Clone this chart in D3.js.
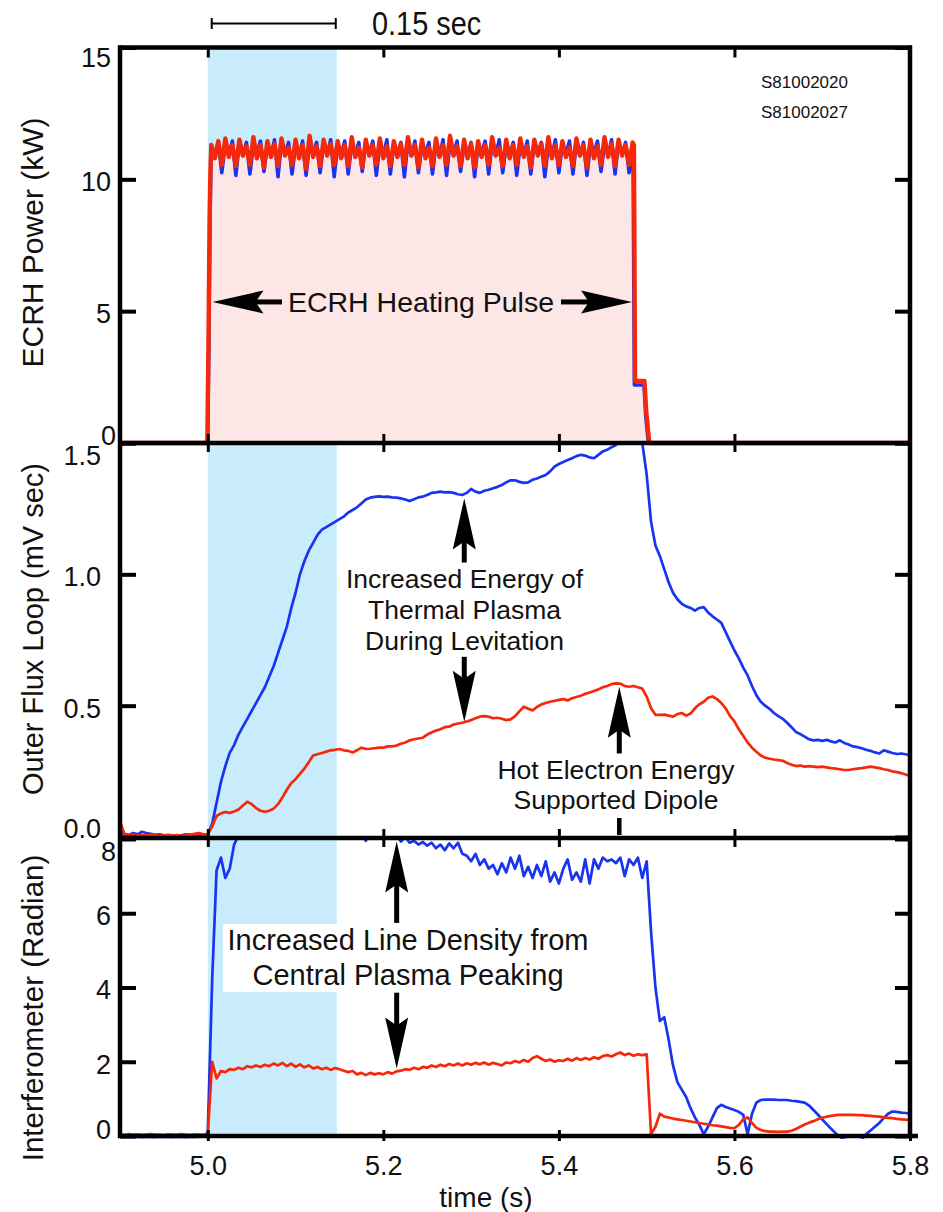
<!DOCTYPE html>
<html>
<head>
<meta charset="utf-8">
<script src="https://cdn.jsdelivr.net/npm/d3@7"></script>
<style>
  html, body { margin: 0; padding: 0; background: #fff; }
  svg { display: block; }
  text { font-family: "Liberation Sans", Arial, Helvetica, sans-serif; fill: #111; }
</style>
</head>
<body>
<svg id="chart" width="943" height="1212"></svg>
<script>
// ---------------- data ----------------
const timeTicks = [5.0, 5.2, 5.4, 5.6, 5.8];
const powerTicks = [0, 5, 10, 15];
const fluxTicks = [0, 0.5, 1.0, 1.5];
const interfTicks = [0, 2, 4, 6, 8];
const shotLabels = ["S81002020", "S81002027"];
const heatingWindow = [5.0, 5.147];   // shaded interval (s)

// ECRH power (kW): turn-on edge, 4 ms samples of the ripple, turn-off edge
const ecrhRippleStart = 5.004, ecrhRippleStep = 0.004;
const ecrhRedLead = [[4.90, 0], [4.9995, 0], [5.001, 4.5], [5.002, 8.4], [5.003, 10.3]];
const ecrhRedRipple = [
  11.30, 10.80, 11.45, 10.55,  11.55, 10.85, 11.30, 10.50,  11.50, 10.90, 11.25, 10.55,
  11.60, 10.80, 11.30, 10.45,  11.45, 10.85, 11.35, 10.50,  11.55, 10.90, 11.20, 10.55,
  11.50, 10.80, 11.30, 10.40,  11.65, 10.85, 11.25, 10.50,  11.50, 10.90, 11.35, 10.55,
  11.45, 10.80, 11.30, 10.50,  11.60, 10.85, 11.20, 10.45,  11.50, 10.90, 11.30, 10.55,
  11.55, 10.80, 11.25, 10.50,  11.45, 10.85, 11.35, 10.55,  11.60, 10.90, 11.30, 10.45,
  11.50, 10.80, 11.20, 10.50,  11.55, 10.85, 11.30, 10.55,  11.65, 10.90, 11.25, 10.50,
  11.50, 10.80, 11.35, 10.45,  11.45, 10.85, 11.30, 10.55,  11.60, 10.90, 11.20, 10.50,
  11.50, 10.80, 11.30, 10.55,  11.55, 10.85, 11.25, 10.45,  11.50, 10.90, 11.35, 10.50,
  11.60, 10.80, 11.30, 10.55,  11.45, 10.85, 11.20, 10.50,  11.55, 10.90, 11.30, 10.45,
  11.50, 10.80, 11.25, 10.55,  11.60, 10.85, 11.35, 10.50,  11.50, 10.90, 11.30, 10.55,
  11.40
];
const ecrhRedTail = [[5.4855, 11.3], [5.4868, 2.35], [5.4975, 2.35], [5.4995, 1.2], [5.503, 0], [5.80, 0]];

const ecrhBlueLead = [[4.90, 0], [4.9998, 0], [5.0012, 3.5], [5.0025, 8.2], [5.0035, 10.6]];
const ecrhBlueRipple = [
  11.30, 10.90, 11.40, 10.25,  11.35, 10.95, 11.45, 10.15,  11.40, 10.90, 11.40, 10.20,
  11.30, 11.00, 11.45, 10.30,  11.35, 10.90, 11.50, 10.10,  11.40, 10.95, 11.40, 10.20,
  11.30, 10.90, 11.45, 10.15,  11.35, 11.00, 11.40, 10.25,  11.40, 10.90, 11.50, 10.10,
  11.30, 10.95, 11.45, 10.20,  11.35, 10.90, 11.40, 10.30,  11.40, 11.00, 11.45, 10.15,
  11.30, 10.90, 11.50, 10.20,  11.35, 10.95, 11.40, 10.10,  11.40, 10.90, 11.45, 10.25,
  11.30, 11.00, 11.40, 10.20,  11.35, 10.90, 11.50, 10.15,  11.40, 10.95, 11.45, 10.30,
  11.30, 10.90, 11.40, 10.10,  11.35, 11.00, 11.45, 10.20,  11.40, 10.90, 11.50, 10.25,
  11.30, 10.95, 11.40, 10.15,  11.35, 10.90, 11.45, 10.20,  11.40, 11.00, 11.40, 10.10,
  11.30, 10.90, 11.50, 10.25,  11.35, 10.95, 11.45, 10.20,  11.40, 10.90, 11.40, 10.15,
  11.30, 11.00, 11.45, 10.30,  11.35, 10.90, 11.50, 10.20,  11.40, 10.95, 11.40, 10.25,
  11.30
];
const ecrhBlueTail = [[5.4845, 10.9], [5.486, 2.2], [5.497, 2.2], [5.499, 1.0], [5.502, 0], [5.80, 0]];

// Flux loop and interferometer: 5 ms samples from 4.90 s to 5.80 s
const sampleStart = 4.90, sampleStep = 0.005;

const fluxBlue = [
  /* 4.90 */ 0.010, 0.012, 0.008, 0.015, 0.010, 0.020, 0.015, 0.012, 0.008, 0.010,
  /* 4.95 */ 0.006, 0.004, 0.005, 0.003, 0.006, 0.010, 0.008, 0.004, 0.006, 0.008,
  /* 5.00 */ 0.010, 0.050, 0.130, 0.210, 0.270, 0.320, 0.350, 0.390, 0.420, 0.450,
  /* 5.05 */ 0.480, 0.510, 0.540, 0.570, 0.610, 0.650, 0.700, 0.750, 0.800, 0.870,
  /* 5.10 */ 0.930, 1.000, 1.050, 1.090, 1.120, 1.150, 1.170, 1.180, 1.190, 1.200,
  /* 5.15 */ 1.210, 1.220, 1.235, 1.245, 1.255, 1.270, 1.285, 1.292, 1.295, 1.297,
  /* 5.20 */ 1.295, 1.296, 1.293, 1.292, 1.289, 1.285, 1.279, 1.286, 1.293, 1.296,
  /* 5.25 */ 1.302, 1.310, 1.312, 1.315, 1.312, 1.313, 1.310, 1.305, 1.302, 1.310,
  /* 5.30 */ 1.325, 1.315, 1.310, 1.318, 1.322, 1.328, 1.333, 1.340, 1.350, 1.358,
  /* 5.35 */ 1.358, 1.352, 1.348, 1.350, 1.360, 1.365, 1.372, 1.378, 1.392, 1.410,
  /* 5.40 */ 1.420, 1.428, 1.435, 1.442, 1.450, 1.455, 1.452, 1.445, 1.442, 1.455,
  /* 5.45 */ 1.468, 1.474, 1.484, 1.492, 1.510, 1.525, 1.540, 1.550, 1.545, 1.500,
  /* 5.50 */ 1.380, 1.200, 1.110, 1.070, 1.020, 0.970, 0.930, 0.905, 0.888, 0.878,
  /* 5.55 */ 0.872, 0.862, 0.872, 0.875, 0.855, 0.840, 0.828, 0.815, 0.780, 0.745,
  /* 5.60 */ 0.710, 0.680, 0.645, 0.615, 0.575, 0.540, 0.515, 0.500, 0.488, 0.472,
  /* 5.65 */ 0.460, 0.450, 0.435, 0.418, 0.400, 0.392, 0.382, 0.372, 0.368, 0.370,
  /* 5.70 */ 0.366, 0.370, 0.364, 0.360, 0.368, 0.358, 0.352, 0.345, 0.342, 0.338,
  /* 5.75 */ 0.332, 0.328, 0.322, 0.318, 0.330, 0.325, 0.320, 0.316, 0.318, 0.315,
  /* 5.80 */ 0.310
];

const fluxRed = [
  /* 4.90 */ 0.060, 0.010, 0.006, 0.008, 0.004, 0.007, 0.005, 0.009, 0.006, 0.004,
  /* 4.95 */ 0.006, 0.008, 0.005, 0.007, 0.004, 0.006, 0.009, 0.012, 0.015, 0.010,
  /* 5.00 */ 0.010, 0.040, 0.080, 0.090, 0.095, 0.092, 0.097, 0.105, 0.120, 0.134,
  /* 5.05 */ 0.125, 0.110, 0.100, 0.096, 0.100, 0.108, 0.125, 0.150, 0.180, 0.205,
  /* 5.10 */ 0.220, 0.240, 0.260, 0.285, 0.310, 0.315, 0.320, 0.325, 0.330, 0.332,
  /* 5.15 */ 0.335, 0.330, 0.328, 0.322, 0.330, 0.340, 0.335, 0.336, 0.338, 0.340,
  /* 5.20 */ 0.340, 0.345, 0.345, 0.348, 0.355, 0.360, 0.368, 0.372, 0.375, 0.378,
  /* 5.25 */ 0.390, 0.398, 0.405, 0.410, 0.418, 0.420, 0.428, 0.432, 0.435, 0.440,
  /* 5.30 */ 0.445, 0.452, 0.458, 0.460, 0.458, 0.452, 0.454, 0.450, 0.445, 0.448,
  /* 5.35 */ 0.460, 0.478, 0.496, 0.488, 0.482, 0.495, 0.505, 0.510, 0.515, 0.518,
  /* 5.40 */ 0.522, 0.525, 0.520, 0.528, 0.533, 0.538, 0.545, 0.550, 0.556, 0.562,
  /* 5.45 */ 0.570, 0.575, 0.582, 0.585, 0.584, 0.575, 0.572, 0.575, 0.570, 0.565,
  /* 5.50 */ 0.535, 0.490, 0.465, 0.465, 0.466, 0.462, 0.458, 0.468, 0.472, 0.462,
  /* 5.55 */ 0.470, 0.490, 0.505, 0.515, 0.530, 0.535, 0.525, 0.510, 0.490, 0.460,
  /* 5.60 */ 0.440, 0.410, 0.385, 0.360, 0.340, 0.325, 0.310, 0.302, 0.298, 0.295,
  /* 5.65 */ 0.293, 0.290, 0.282, 0.275, 0.270, 0.272, 0.268, 0.270, 0.268, 0.266,
  /* 5.70 */ 0.268, 0.265, 0.262, 0.260, 0.258, 0.255, 0.255, 0.258, 0.260, 0.262,
  /* 5.75 */ 0.265, 0.268, 0.265, 0.262, 0.258, 0.255, 0.250, 0.247, 0.243, 0.238,
  /* 5.80 */ 0.232
];

const interfBlue = [
  /* 4.90 */ -0.020, -0.030, -0.020, -0.025, -0.020, -0.030, -0.020, -0.025, -0.030, -0.020,
  /* 4.95 */ -0.025, -0.020, -0.030, -0.020, -0.025, -0.030, -0.020, -0.025, -0.020, -0.020,
  /* 5.00 */ 0.100, 4.200, 7.150, 7.500, 6.950, 7.200, 7.850, 8.100, 8.300, 8.400,
  /* 5.05 */ 8.500, 8.450, 8.600, 8.500, 8.550, 8.450, 8.600, 8.500, 8.550, 8.450,
  /* 5.10 */ 8.500, 8.600, 8.450, 8.550, 8.500, 8.600, 8.450, 8.500, 8.550, 8.400,
  /* 5.15 */ 8.500, 8.350, 8.450, 8.300, 8.400, 8.200, 7.950, 8.200, 8.100, 8.250,
  /* 5.20 */ 8.150, 8.300, 8.200, 8.100, 7.930, 8.050, 7.900, 7.950, 7.850, 7.920,
  /* 5.25 */ 7.820, 7.900, 7.750, 7.850, 7.700, 7.880, 7.750, 7.900, 7.600, 7.550,
  /* 5.30 */ 7.400, 7.600, 7.300, 7.450, 7.200, 7.300, 7.050, 7.350, 7.100, 7.500,
  /* 5.35 */ 7.200, 7.550, 7.000, 7.250, 6.950, 7.300, 7.000, 7.400, 6.850, 7.100,
  /* 5.40 */ 6.800, 7.200, 7.450, 6.900, 7.100, 6.850, 7.450, 6.800, 7.450, 7.200,
  /* 5.45 */ 7.500, 7.400, 7.450, 7.350, 7.500, 7.000, 7.450, 7.300, 7.500, 6.950,
  /* 5.50 */ 7.400, 5.500, 4.000, 3.100, 3.200, 2.600, 1.900, 1.450, 1.250, 1.050,
  /* 5.55 */ 0.750, 0.500, 0.300, 0.050, 0.250, 0.500, 0.750, 0.840, 0.780, 0.740,
  /* 5.60 */ 0.700, 0.650, 0.570, 0.050, 0.600, 0.900, 0.970, 0.980, 0.980, 0.980,
  /* 5.65 */ 0.970, 0.970, 0.970, 0.950, 0.940, 0.920, 0.900, 0.820, 0.700, 0.580,
  /* 5.70 */ 0.450, 0.320, 0.200, 0.080, -0.020, -0.100, -0.120, -0.120, -0.120, -0.100,
  /* 5.75 */ 0.050, 0.150, 0.250, 0.350, 0.480, 0.600, 0.660, 0.650, 0.630, 0.620,
  /* 5.80 */ 0.600
];

const interfRed = [
  /* 4.90 */ 0.040, 0.030, 0.050, 0.035, 0.045, 0.030, 0.040, 0.050, 0.035, 0.040,
  /* 4.95 */ 0.030, 0.045, 0.040, 0.035, 0.050, 0.040, 0.030, 0.045, 0.040, 0.035,
  /* 5.00 */ 0.050, 2.000, 1.550, 1.750, 1.720, 1.800, 1.780, 1.840, 1.800, 1.880,
  /* 5.05 */ 1.850, 1.900, 1.860, 1.920, 1.880, 1.950, 1.900, 1.970, 1.880, 1.950,
  /* 5.10 */ 1.860, 1.930, 1.850, 1.900, 1.820, 1.860, 1.800, 1.840, 1.780, 1.830,
  /* 5.15 */ 1.800, 1.760, 1.720, 1.750, 1.660, 1.700, 1.640, 1.700, 1.660, 1.690,
  /* 5.20 */ 1.660, 1.720, 1.680, 1.740, 1.760, 1.800, 1.780, 1.840, 1.800, 1.860,
  /* 5.25 */ 1.840, 1.900, 1.860, 1.920, 1.880, 1.940, 1.900, 1.950, 1.900, 1.960,
  /* 5.30 */ 1.920, 1.970, 1.930, 1.980, 1.920, 1.970, 1.940, 1.900, 1.980, 1.960,
  /* 5.35 */ 2.020, 1.980, 2.050, 2.000, 2.100, 2.150, 2.080, 2.020, 2.060, 2.000,
  /* 5.40 */ 2.040, 2.020, 2.080, 2.030, 2.100, 2.050, 2.100, 2.060, 2.120, 2.080,
  /* 5.45 */ 2.150, 2.180, 2.140, 2.200, 2.250, 2.180, 2.220, 2.160, 2.200, 2.180,
  /* 5.50 */ 2.200, 0.050, 0.250, 0.600, 0.520, 0.500, 0.470, 0.450, 0.430, 0.410,
  /* 5.55 */ 0.390, 0.370, 0.350, 0.330, 0.310, 0.290, 0.280, 0.260, 0.240, 0.220,
  /* 5.60 */ 0.210, 0.300, 0.450, 0.500, 0.350, 0.220, 0.160, 0.130, 0.120, 0.120,
  /* 5.65 */ 0.110, 0.120, 0.120, 0.140, 0.190, 0.250, 0.310, 0.360, 0.400, 0.450,
  /* 5.70 */ 0.490, 0.520, 0.540, 0.560, 0.570, 0.570, 0.570, 0.570, 0.560, 0.560,
  /* 5.75 */ 0.550, 0.540, 0.530, 0.520, 0.500, 0.490, 0.480, 0.460, 0.450, 0.440,
  /* 5.80 */ 0.430
];

// ---------------- styles ----------------
const BLUE = "#1834f0";
const RED = "#f5280c";
const BAND = "#c9ecfc";
const PINK = "#fde6e6";
const INK = "#000";

// ---------------- scales ----------------
const svg = d3.select("#chart");
const x = d3.scaleLinear().domain([4.9, 5.8]).range([120, 910]);
// low / high: pixel nudges for the bottom and top tick labels of each panel
const panels = {
  top: { y: d3.scaleLinear().domain([0, 15]).range([443, 47.5]), ticks: powerTicks, fmt: d3.format("d"), pad: 9, low: [5, -10], high: [0, 8] },
  mid: { y: d3.scaleLinear().domain([0, 1.5]).range([837, 443]), ticks: fluxTicks, fmt: d3.format(".1f"), pad: 19, low: [0, -11], high: [0, 10] },
  bot: { y: d3.scaleLinear().domain([0, 8]).range([1136, 839]), ticks: interfTicks, fmt: d3.format("d"), pad: 9, low: [0, -9], high: [5, 10] }
};

const sampled = vals => vals.map((v, i) => [sampleStart + i * sampleStep, v]);
const ripple = vals => vals.map((v, i) => [ecrhRippleStart + i * ecrhRippleStep, v]);
const ecrhRed = ecrhRedLead.concat(ripple(ecrhRedRipple), ecrhRedTail);
const ecrhBlue = ecrhBlueLead.concat(ripple(ecrhBlueRipple), ecrhBlueTail);

// ---------------- clip regions ----------------
const defs = svg.append("defs");
Object.entries(panels).forEach(([k, p]) => {
  const [y0, y1] = p.y.range();
  defs.append("clipPath").attr("id", "clip-" + k)
    .append("rect")
    .attr("x", x.range()[0]).attr("y", y1)
    .attr("width", x.range()[1] - x.range()[0])
    .attr("height", y0 - y1 + 3);
});

// ---------------- heating window shading ----------------
svg.append("rect")
  .attr("x", x(heatingWindow[0])).attr("y", panels.top.y(15))
  .attr("width", x(heatingWindow[1]) - x(heatingWindow[0]))
  .attr("height", panels.bot.y(0) - panels.top.y(15))
  .attr("fill", BAND);

// ---------------- ECRH power panel ----------------
const gTop = svg.append("g").attr("clip-path", "url(#clip-top)");
const yT = panels.top.y;
gTop.append("path")
  .datum(ecrhRed.filter(d => d[0] >= 5.0 && d[0] <= 5.504))
  .attr("fill", PINK)
  .attr("d", d3.area().x(d => x(d[0])).y0(yT(0)).y1(d => yT(d[1])));
const lineTop = d3.line().x(d => x(d[0])).y(d => yT(d[1]));
gTop.append("path").datum(ecrhBlue).attr("d", lineTop)
  .attr("fill", "none").attr("stroke", BLUE).attr("stroke-width", 3.6).attr("stroke-linejoin", "round");
gTop.append("path").datum(ecrhRed).attr("d", lineTop)
  .attr("fill", "none").attr("stroke", RED).attr("stroke-width", 4.4).attr("stroke-linejoin", "round");

// ---------------- flux loop panel ----------------
const gMid = svg.append("g").attr("clip-path", "url(#clip-mid)");
const yM = panels.mid.y;
const lineMid = d3.line().x(d => x(d[0])).y(d => yM(d[1]));
gMid.append("path").datum(sampled(fluxBlue)).attr("d", lineMid)
  .attr("fill", "none").attr("stroke", BLUE).attr("stroke-width", 2.7).attr("stroke-linejoin", "round");
gMid.append("path").datum(sampled(fluxRed)).attr("d", lineMid)
  .attr("fill", "none").attr("stroke", RED).attr("stroke-width", 2.7).attr("stroke-linejoin", "round");

// ---------------- interferometer panel ----------------
const gBot = svg.append("g").attr("clip-path", "url(#clip-bot)");
const yB = panels.bot.y;
const lineBot = d3.line().x(d => x(d[0])).y(d => yB(d[1]));
gBot.append("path").datum(sampled(interfBlue)).attr("d", lineBot)
  .attr("fill", "none").attr("stroke", BLUE).attr("stroke-width", 2.7).attr("stroke-linejoin", "round");
gBot.append("path").datum(sampled(interfRed)).attr("d", lineBot)
  .attr("fill", "none").attr("stroke", RED).attr("stroke-width", 2.7).attr("stroke-linejoin", "round");

// ---------------- annotations ----------------
function arrow(x1, y1, x2, y2) {
  // tail (x1,y1) to tip (x2,y2), notched head
  const L = 51, W = 11.5, N = 43;
  const len = Math.hypot(x2 - x1, y2 - y1);
  const ux = (x2 - x1) / len, uy = (y2 - y1) / len;
  svg.append("line")
    .attr("x1", x1).attr("y1", y1)
    .attr("x2", x2 - ux * (N - 2)).attr("y2", y2 - uy * (N - 2))
    .attr("stroke", INK).attr("stroke-width", 5);
  const ang = Math.atan2(uy, ux) * 180 / Math.PI;
  svg.append("path")
    .attr("d", `M0,0L${-L},${-W}L${-N},0L${-L},${W}Z`)
    .attr("transform", `translate(${x2},${y2}) rotate(${ang})`)
    .attr("fill", INK);
}

function label(lines, cx, baseline, size, gap) {
  const t = svg.append("text")
    .attr("text-anchor", "middle")
    .attr("font-size", size);
  lines.forEach((s, i) => {
    t.append("tspan").attr("x", cx).attr("y", baseline + i * gap).text(s);
  });
}

// ECRH heating pulse
label(["ECRH Heating Pulse"], 421, 311.5, 28.5, 0);
arrow(x(5.0846), yT(5.35), x(5.0054), yT(5.35));
arrow(x(5.4024), yT(5.35), x(5.4833), yT(5.35));

// thermal plasma energy
label(["Increased Energy of", "Thermal Plasma", "During Levitation"], 464.5, 588, 26.5, 31);
arrow(x(5.2922), yM(1.045), x(5.2922), yM(1.289));
arrow(x(5.2922), yM(0.686), x(5.2922), yM(0.439));

// hot electron energy
label(["Hot Electron Energy", "Supported Dipole"], 616, 778.5, 26.5, 30.5);
arrow(x(5.4688), yM(0.318), x(5.4688), yM(0.572));
svg.append("line")
  .attr("x1", x(5.4688)).attr("x2", x(5.4688))
  .attr("y1", 818).attr("y2", 835)
  .attr("stroke", INK).attr("stroke-width", 4.5);

// line density
svg.append("rect").attr("x", 223).attr("y", 924).attr("width", 370).attr("height", 68).attr("fill", "#fff");
label(["Increased Line Density from", "Central Plasma Peaking"], 408, 950, 29, 35);
arrow(x(5.2152), yB(5.74), x(5.2152), yB(7.93));
arrow(x(5.2152), yB(3.86), x(5.2152), yB(1.82));

// time scale bar
const barY = 23.5;
const bx1 = x(5.0045), bx2 = x(5.1458);
svg.append("line").attr("x1", bx1).attr("x2", bx2).attr("y1", barY).attr("y2", barY)
  .attr("stroke", INK).attr("stroke-width", 2);
[bx1, bx2].forEach(bx => svg.append("line").attr("x1", bx).attr("x2", bx)
  .attr("y1", barY - 5.5).attr("y2", barY + 5.5).attr("stroke", INK).attr("stroke-width", 2));
svg.append("text").attr("transform", "translate(372,35) scale(0.85,1)")
  .attr("font-size", 34).text("0.15 sec");

// shot numbers
shotLabels.forEach((s, i) => {
  svg.append("text").attr("x", 761).attr("y", 88.3 + i * 30).attr("font-size", 17).text(s);
});

// ---------------- axes and frame ----------------
function styleAxis(g, w) {
  g.select(".domain").remove();
  g.selectAll(".tick line").attr("stroke", INK).attr("stroke-width", w);
  g.selectAll(".tick text").attr("fill", "#111").attr("font-size", 27)
    .attr("font-family", '"Liberation Sans", Arial, Helvetica, sans-serif');
}

Object.values(panels).forEach(p => {
  const dom = p.y.domain();
  const gl = svg.append("g").attr("transform", `translate(${x.range()[0]},0)`)
    .call(d3.axisLeft(p.y).tickValues(p.ticks).tickFormat(p.fmt).tickSizeInner(-16).tickSizeOuter(0).tickPadding(p.pad));
  styleAxis(gl, 4);
  gl.selectAll(".tick text").attr("dy", "0.42em")
    .attr("transform", d => d === dom[1] ? `translate(${p.high[0]},${p.high[1]})`
                          : d === dom[0] ? `translate(${p.low[0]},${p.low[1]})` : null);
  const gr = svg.append("g").attr("transform", `translate(${x.range()[1]},0)`)
    .call(d3.axisRight(p.y).tickValues(p.ticks).tickFormat("").tickSizeInner(-15).tickSizeOuter(0));
  styleAxis(gr, 4);
});

// time ticks along the frame edges
const gTopTicks = svg.append("g").attr("transform", `translate(0,${yT(15)})`)
  .call(d3.axisTop(x).tickValues(timeTicks.slice(0, 4)).tickFormat("").tickSizeInner(-10).tickSizeOuter(0));
styleAxis(gTopTicks, 3);
[yT(0), (yM(0) + yB(8)) / 2].forEach(yy => {
  const a = svg.append("g").attr("transform", `translate(0,${yy})`)
    .call(d3.axisTop(x).tickValues(timeTicks.slice(0, 4)).tickFormat("").tickSizeInner(9).tickSizeOuter(0));
  styleAxis(a, 3);
  const b = svg.append("g").attr("transform", `translate(0,${yy})`)
    .call(d3.axisBottom(x).tickValues(timeTicks.slice(0, 4)).tickFormat("").tickSizeInner(9).tickSizeOuter(0));
  styleAxis(b, 3);
});
const gBotUp = svg.append("g").attr("transform", `translate(0,${yB(0)})`)
  .call(d3.axisTop(x).tickValues(timeTicks.slice(0, 4)).tickFormat("").tickSizeInner(6).tickSizeOuter(0));
styleAxis(gBotUp, 3);
const gX = svg.append("g").attr("transform", `translate(0,${yB(0)})`)
  .call(d3.axisBottom(x).tickValues(timeTicks).tickFormat(d3.format(".1f")).tickSizeInner(5).tickSizeOuter(0).tickPadding(15));
styleAxis(gX, 3);

// frame lines
const fx0 = x.range()[0], fx1 = x.range()[1];
const frame = [
  [fx0 - 2, yT(15), fx1 + 2, yT(15)],
  [fx0 - 2, yT(0), fx1 + 2, yT(0)],
  [fx0 - 2, (yM(0) + yB(8)) / 2, fx1 + 2, (yM(0) + yB(8)) / 2],
  [fx0 - 2, yB(0), fx1 + 8, yB(0)],
  [fx0, yT(15) - 2, fx0, yB(0) + 2],
  [fx1, yT(15) - 2, fx1, yB(0) + 2]
];
frame.forEach(([a, b, c, d]) => svg.append("line")
  .attr("x1", a).attr("y1", b).attr("x2", c).attr("y2", d)
  .attr("stroke", INK).attr("stroke-width", 4.5));

// axis titles
svg.append("text").attr("transform", "translate(43,242.5) rotate(-90)")
  .attr("text-anchor", "middle").attr("font-size", 30).text("ECRH Power (kW)");
svg.append("text").attr("transform", "translate(43,629) rotate(-90)")
  .attr("text-anchor", "middle").attr("font-size", 29).text("Outer Flux Loop (mV sec)");
svg.append("text").attr("transform", "translate(43,1008) rotate(-90)")
  .attr("text-anchor", "middle").attr("font-size", 29.5).text("Interferometer (Radian)");
svg.append("text").attr("x", 486).attr("y", 1207)
  .attr("text-anchor", "middle").attr("font-size", 28).text("time (s)");
</script>
</body>
</html>
